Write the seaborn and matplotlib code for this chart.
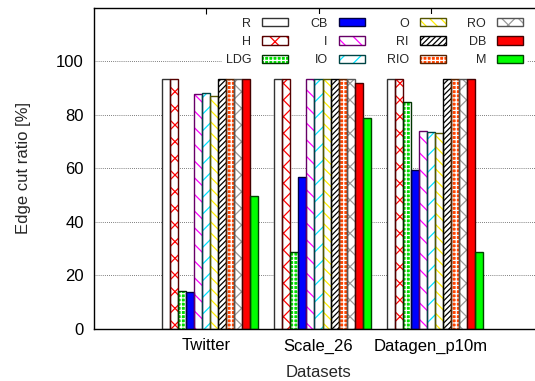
import matplotlib
matplotlib.use("Agg")
import matplotlib.pyplot as plt
import seaborn as sns
import pandas as pd
from matplotlib.patches import Rectangle, Patch

datasets = ["Twitter", "Scale_26", "Datagen_p10m"]
methods = ["R", "H", "LDG", "CB", "I", "IO", "O", "RI", "RIO", "RO", "DB", "M"]

r_vals = [93.5, 93.5, 93.5]
h_vals = [93.5, 93.5, 93.5]
ldg_vals = [14.1, 28.6, 84.8]
cb_vals = [13.6, 56.6, 59.4]
i_vals = [87.8, 93.4, 73.8]
io_vals = [88.2, 93.5, 73.7]
o_vals = [87.0, 93.4, 73.2]
ri_vals = [93.5, 93.5, 93.5]
rio_vals = [93.5, 93.5, 93.5]
ro_vals = [93.5, 93.5, 93.5]
db_vals = [93.5, 92.0, 93.5]
m_vals = [49.7, 79.0, 28.6]

series = [r_vals, h_vals, ldg_vals, cb_vals, i_vals, io_vals, o_vals,
          ri_vals, rio_vals, ro_vals, db_vals, m_vals]

# fill colour, hatch, hatch colour, outline colour
styles = {
    "R":   ("white",   "",      "white",   "#333333"),
    "H":   ("white",   "xx",    "#ff0000", "#550000"),
    "LDG": ("#00dd00", "++++",  "white",   "#003300"),
    "CB":  ("#0000ff", "",      "#0000ff", "#000044"),
    "I":   ("white",   "\\\\",  "#ff00ff", "#660066"),
    "IO":  ("white",   "//",    "#00e5ff", "#004444"),
    "O":   ("white",   "\\\\\\", "#ffee00", "#555500"),
    "RI":  ("white",   "//////", "#000000", "#000000"),
    "RIO": ("#ff4400", "++++",  "white",   "#552200"),
    "RO":  ("white",   "xx",    "#999999", "#555555"),
    "DB":  ("#ff0000", "",      "#ff0000", "#440000"),
    "M":   ("#00ff00", "",      "#00ff00", "#004400"),
}

rows = []
for m, vals in zip(methods, series):
    for d, v in zip(datasets, vals):
        rows.append({"Dataset": d, "Method": m, "ratio": v})
df = pd.DataFrame(rows)

sns.set_style("white")
plt.rcParams["font.family"] = ["Liberation Sans", "DejaVu Sans"]
plt.rcParams["hatch.linewidth"] = 0.9

fig = plt.figure(figsize=(5.35, 3.81), dpi=100)
ax = fig.add_axes([93.5 / 535, 1 - 328.7 / 381, 450 / 535, (328.7 - 8) / 381])

sns.barplot(data=df, x="Dataset", y="ratio", hue="Method", order=datasets,
            hue_order=methods, width=0.86, dodge=True, saturation=1,
            legend=False, ax=ax, zorder=2)

shift = 0.036
for m, cont in zip(methods, ax.containers):
    face, hatch, hcol, ecol = styles[m]
    for bar in cont:
        bar.set_x(bar.get_x() + shift)
        bar.set_facecolor(face)
        bar.set_hatch(hatch)
        bar.set_edgecolor(hcol)
        bar.set_linewidth(0)
        ax.add_patch(Rectangle((bar.get_x(), 0), bar.get_width(), bar.get_height(),
                               facecolor="none", edgecolor=ecol, linewidth=1.0,
                               zorder=3))

ax.set_xlim(-1, 3)
ax.set_ylim(0, 120)
ax.set_yticks([0, 20, 40, 60, 80, 100])
ax.set_xticks([0, 1, 2])
ax.set_xticklabels(datasets)
ax.set_xlabel("Datasets", fontsize=12, labelpad=8)
ax.set_ylabel("Edge cut ratio [%]", fontsize=12, labelpad=18)
ax.tick_params(axis="both", direction="in", length=4, width=0.8,
               top=True, right=True, labelsize=12, colors="black", pad=7)
ax.yaxis.grid(True, linestyle=(0, (1, 1.5)), color="#555555", linewidth=0.6, zorder=0)
ax.set_axisbelow(True)
for s in ax.spines.values():
    s.set_color("black")
    s.set_linewidth(1.0)
    s.set_zorder(6)

handles = []
for m in methods:
    face, hatch, hcol, ecol = styles[m]
    fill = Patch(facecolor=face, hatch=hatch, edgecolor=hcol, linewidth=0)
    edge = Patch(facecolor="none", edgecolor=ecol, linewidth=1.0)
    handles.append((fill, edge))

leg = ax.legend(handles, methods, ncol=4, loc="upper right",
                bbox_to_anchor=(527 / 535, 1 - 14 / 381),
                bbox_transform=fig.transFigure,
                markerfirst=False, fontsize=9, handlelength=2.08,
                handleheight=0.64, handletextpad=0.88, columnspacing=1.75,
                labelspacing=0.5, borderpad=0.3, borderaxespad=0,
                frameon=True, framealpha=1, fancybox=False)
leg.get_frame().set_linewidth(0)
leg.get_frame().set_facecolor("white")
leg.set_zorder(5)
for t in leg.get_texts():
    t.set_ha("right")

fig.savefig("out.png", dpi=100)
